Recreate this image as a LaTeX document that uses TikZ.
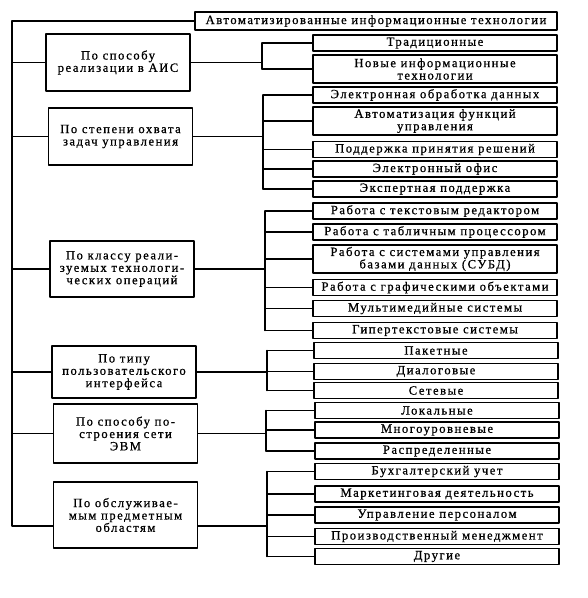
\documentclass[tikz,border=0pt]{standalone}
\usepackage{fontspec}
\setmainfont{Liberation Serif}[LetterSpace=12, FakeBold=0.8]
\begin{document}
\begin{tikzpicture}[x=0.25mm, y=-0.25mm, line cap=round, line join=round, line width=1pt,
	font=\fontsize{9}{8.8}\selectfont,
	box/.style={draw, line width=1.1pt, align=center, inner sep=0pt},
	cat/.style={box, minimum width=36mm},
	item/.style={box, minimum width=61mm, minimum height=4mm}]
	\useasboundingbox (0,0) rectangle (588,598);
	
	% 1. Заголовок и общая линия слева
	\node[box, minimum width=90.5mm, minimum height=4.5mm] (top) at (376,21) {Автоматизированные информационные технологии};
	\coordinate (spine) at (12,0);
	
	% 2. Классификационные признаки
	\node[cat, minimum height=14.25mm] (c1) at (118,62.5) {По способу\\реализации в АИС};
	\node[cat, minimum height=14.25mm] (c2) at (120.5,136.5) {По степени охвата\\задач управления};
	\node[cat, minimum height=14mm] (c3) at (122,269) {По классу реали-\\зуемых технологи-\\ческих операций};
	\node[cat, minimum height=13mm] (c4) at (124,372) {По типу\\пользовательского\\интерфейса};
	\node[cat, minimum height=14.75mm] (c5) at (125.5,433.5) {По способу по-\\строения сети\\ЭВМ};
	\node[cat, minimum height=16.5mm] (c6) at (125.5,515) {По обслуживае-\\мым предметным\\областям};
	
	\draw (top.west) -- (top.west -| spine) -- ([yshift=-2.75mm]c6.west -| spine) -- ([yshift=-2.75mm]c6.west);
	\foreach \c in {c1,c2,c3,c4,c5}
		\draw (\c.west) -- (\c.west -| spine);
	
	% 3. По способу реализации
	\coordinate (b1) at (262,0);
	\foreach \n/\y/\h/\t in {t1/43/4/Традиционные, t2/69/7/{Новые информационные\\технологии}} {
		\node[item, minimum height=\h mm] (\n) at (435,\y) {\t};
		\draw (\n.west) -- (\n.west -| b1);
	}
	\draw (t1.west -| b1) -- (t2.west -| b1);
	\draw (c1.east) -- (c1.east -| b1);
	
	% 4. По степени охвата задач
	\coordinate (b2) at (263,0);
	\foreach \n/\y/\h/\t in {u1/95/4/Электронная обработка данных, u2/121/7/{Автоматизация функций\\управления},
		u3/149.5/4/Поддержка принятия решений, u4/169/4/Электронный офис, u5/189/4/Экспертная поддержка} {
		\node[item, minimum height=\h mm] (\n) at (435,\y) {\t};
		\draw (\n.west) -- (\n.west -| b2);
	}
	\draw (u1.west -| b2) -- (u5.west -| b2);
	\draw (c2.east) -- (c2.east -| b2);
	
	% 5. По классу операций
	\coordinate (b3) at (265,0);
	\foreach \n/\y/\h/\t in {v1/211/4/Работа с текстовым редактором, v2/232/4/Работа с табличным процессором,
		v3/259/7/{Работа с системами управления\\базами данных (СУБД)}, v4/287.5/4/Работа с графическими объектами,
		v5/308.5/4/Мультимедийные системы, v6/330.5/4/Гипертекстовые системы} {
		\node[item, minimum height=\h mm] (\n) at (435,\y) {\t};
		\draw (\n.west) -- (\n.west -| b3);
	}
	\draw (v1.west -| b3) -- (v6.west -| b3);
	\draw (c3.east) -- (c3.east -| b3);
	
	% 6. По типу интерфейса
	\coordinate (b4) at (267,0);
	\foreach \n/\y/\h/\t in {w1/350.5/4/Пакетные, w2/371.5/4/Диалоговые, w3/390.5/4/Сетевые} {
		\node[item, minimum height=\h mm] (\n) at (436,\y) {\t};
		\draw (\n.west) -- (\n.west -| b4);
	}
	\draw (w1.west -| b4) -- (w3.west -| b4);
	\draw (c4.east) -- (c4.east -| b4);
	
	% 7. По способу построения сети
	\coordinate (b5) at (266,0);
	\foreach \n/\y/\h/\t in {x1/410.5/4/Локальные, x2/430/4/Многоуровневые, x3/451/4/Распределенные} {
		\node[item, minimum height=\h mm] (\n) at (437,\y) {\t};
		\draw (\n.west) -- (\n.west -| b5);
	}
	\draw (x1.west -| b5) -- (x3.west -| b5);
	\draw (c5.east) -- (c5.east -| b5);
	
	% 8. По предметным областям
	\coordinate (b6) at (267,0);
	\foreach \n/\y/\h/\t in {y1/471.5/4/Бухгалтерский учет, y2/494/4/Маркетинговая деятельность,
		y3/515/4/Управление персоналом, y4/536.5/4/Производственный менеджмент, y5/556.5/4/Другие} {
		\node[item, minimum height=\h mm] (\n) at (437,\y) {\t};
		\draw (\n.west) -- (\n.west -| b6);
	}
	\draw (y1.west -| b6) -- (y5.west -| b6);
	\draw ([yshift=-2.75mm]c6.east) -- ([yshift=-2.75mm]c6.east -| b6);
\end{tikzpicture}
\end{document}
